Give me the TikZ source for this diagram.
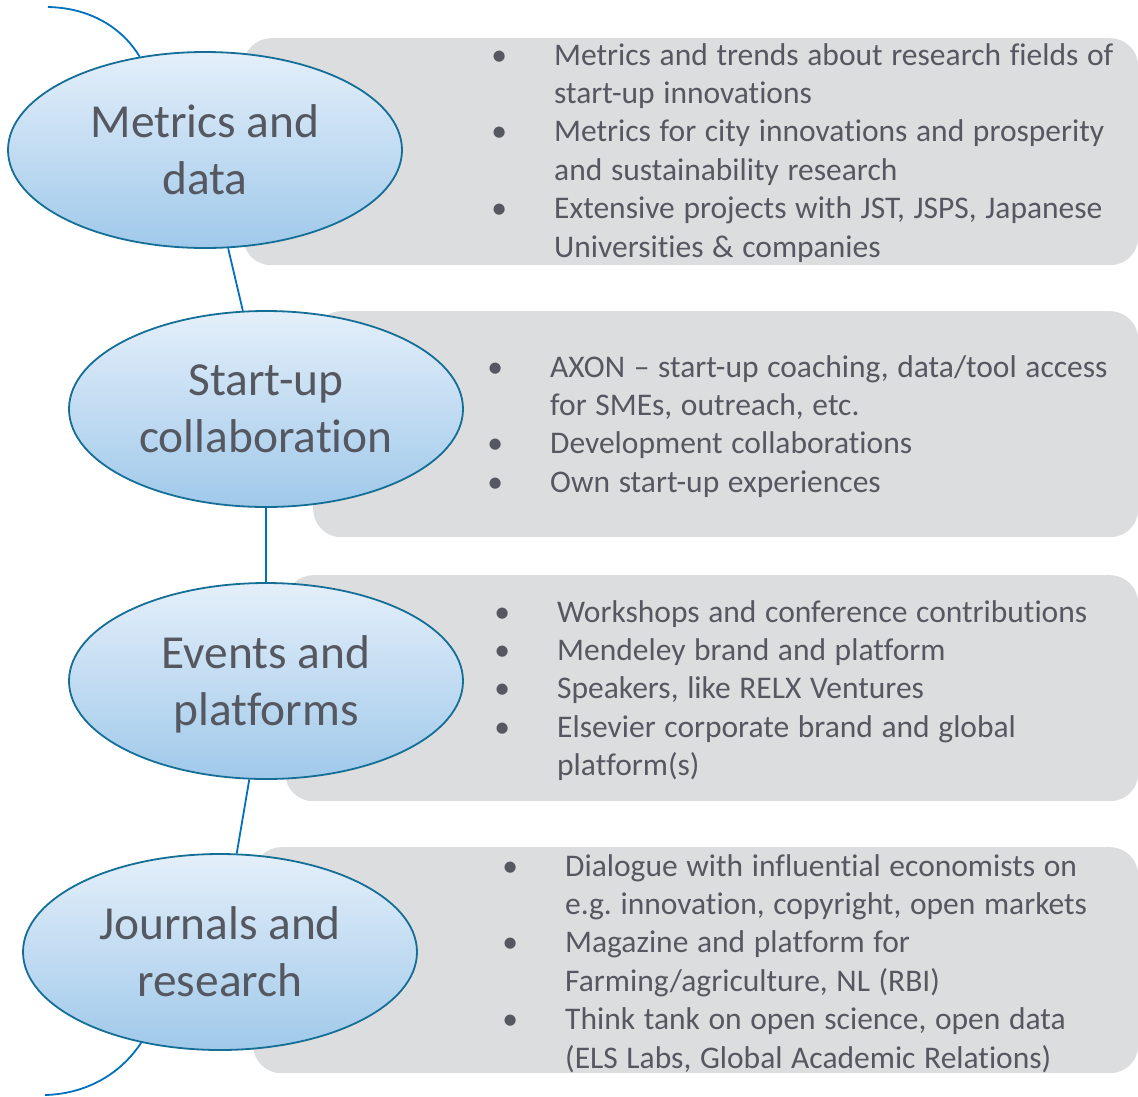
\documentclass[tikz,border=0pt]{standalone}
\usepackage{fontspec}
\setmainfont{Carlito}[Ligatures=NoCommon]
\usetikzlibrary{shapes.geometric,shadings}

\definecolor{inktext}{RGB}{85,88,96}
\definecolor{panelgray}{RGB}{220,221,223}
\definecolor{rimblue}{RGB}{20,110,150}
\definecolor{linkblue}{RGB}{0,112,192}
\definecolor{topsky}{RGB}{228,239,250}
\definecolor{lowsky}{RGB}{160,201,234}

% fixed word spacing for the list text
\newcommand{\listspaces}{\spaceskip=0.275em plus 0.05em minus 0.03em\relax}
% first line of a bullet item: dot centred 20pt into the column, text 75pt in
\newcommand{\itemhead}[1]{\noindent\listspaces\makebox[40pt][c]{•}\hspace{35pt}#1\par}
% wrapped continuation line of an item, aligned with the item text
\newcommand{\itemmore}[1]{\noindent\listspaces\hspace*{75pt}#1\par}

\tikzset{
  panel/.style={draw=none, fill=panelgray, rounded corners=28pt, anchor=north west, inner sep=0pt},
  bubble/.style={ellipse, draw=rimblue, line width=1.8pt, top color=topsky, bottom color=lowsky,
    minimum width=394pt, minimum height=196pt, inner sep=0pt, align=center, text=inktext,
    font=\fontsize{47.4}{57}\selectfont},
  link/.style={draw=linkblue, line width=1.8pt},
  listtext/.style={anchor=base west, inner sep=0pt, text width=660pt, text=inktext,
    font=\fontsize{31.5}{38.4}\selectfont\frenchspacing}
}

\begin{document}
\begin{tikzpicture}[x=1pt, y=-1pt]
\useasboundingbox (0,0) rectangle (1138,1096);

% grey panels behind the topics
\node[panel, minimum width=895pt, minimum height=227pt] (b1) at (243,38) {};
\node[panel, minimum width=825pt, minimum height=226pt] (b2) at (313,311) {};
\node[panel, minimum width=853pt, minimum height=226pt] (b3) at (285,575) {};
\node[panel, minimum width=885pt, minimum height=226pt] (b4) at (253,847) {};

% topic bubbles
\node[bubble] (e1) at (205,150) {Metrics and\\data};
\node[bubble] (e2) at (266,409) {Start-up\\collaboration};
\node[bubble, text depth=0pt] (e3) at (266,681) {Events and\\platforms};
\node[bubble] (e4) at (220,952) {Journals and\\research};

% chain of connectors
\coordinate (topend) at (48,7);
\coordinate (lowend) at (45,1095);
\draw[link] (topend) .. controls (95,8) and (125,32) .. (e1.125);
\draw[link] (e1) -- (e2);
\draw[link] (e2) -- (e3);
\draw[link] (e3) -- (e4);
\draw[link] (e4.-131) .. controls (120,1075) and (85,1094) .. (lowend);

% bullet lists
\node[listtext] (t1) at (479,65) {%
\itemhead{Metrics and trends about research fields of}
\itemmore{start-up innovations}
\itemhead{Metrics for city innovations and prosperity}
\itemmore{and sustainability research}
\itemhead{Extensive projects with JST, JSPS, Japanese}
\itemmore{Universities \& companies}};

\node[listtext] (t2) at (475,377) {%
\itemhead{AXON – start-up coaching, data/tool access}
\itemmore{for SMEs, outreach, etc.}
\itemhead{Development collaborations}
\itemhead{Own start-up experiences}};

\node[listtext] (t3) at (482,622) {%
\itemhead{Workshops and conference contributions}
\itemhead{Mendeley brand and platform}
\itemhead{Speakers, like RELX Ventures}
\itemhead{Elsevier corporate brand and global}
\itemmore{platform(s)}};

\node[listtext] (t4) at (490,876) {%
\itemhead{Dialogue with influential economists on}
\itemmore{e.g. innovation, copyright, open markets}
\itemhead{Magazine and platform for}
\itemmore{Farming/agriculture, NL (RBI)}
\itemhead{Think tank on open science, open data}
\itemmore{(ELS Labs, Global Academic Relations)}};
\end{tikzpicture}
\end{document}
